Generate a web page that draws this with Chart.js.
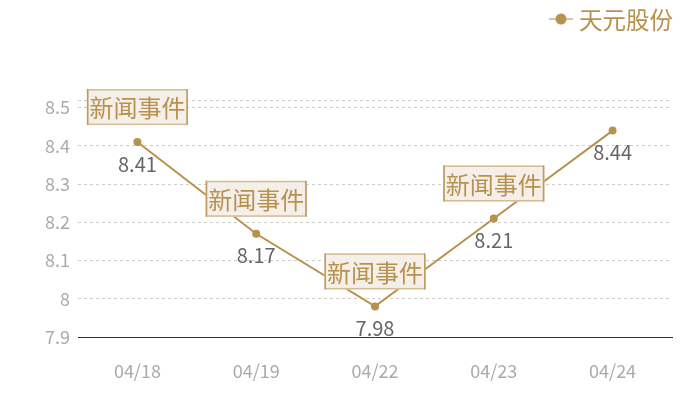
<!DOCTYPE html>
<html>
<head>
<meta charset="utf-8">
<script src="https://cdn.jsdelivr.net/npm/chart.js@4.4.0/dist/chart.umd.min.js"></script>
<style>
html,body{margin:0;padding:0;background:#fff;}
#wrap{width:700px;height:400px;position:relative;}
</style>
</head>
<body>
<div id="wrap"><canvas id="c" width="700" height="400"></canvas></div>
<script>
const categories = ['04/18', '04/19', '04/22', '04/23', '04/24'];
const seriesName = '天元股份';
const prices = [8.41, 8.17, 7.98, 8.21, 8.44];
const eventFlags = [true, true, true, true, false];
const eventText = '新闻事件';
const yTicks = [7.9, 8, 8.1, 8.2, 8.3, 8.4, 8.5];
const yTickLabels = ['7.9', '8', '8.1', '8.2', '8.3', '8.4', '8.5'];
const yMin = 7.9;
const yMax = 8.52;

const GOLD = '#b8914f';
const FONT = '"Noto Sans CJK SC", "Noto Sans", sans-serif';

const overlayPlugin = {
  id: 'overlay',
  afterDatasetsDraw(chart) {
    const ctx = chart.ctx;
    const xs = chart.scales.x, ys = chart.scales.y;
    ctx.save();
    // data labels
    ctx.font = '20px ' + FONT;
    ctx.fillStyle = '#666666';
    ctx.textAlign = 'center';
    ctx.textBaseline = 'middle';
    prices.forEach((v, i) => {
      const x = xs.getPixelForValue(i);
      const y = ys.getPixelForValue(v);
      ctx.fillText(String(v), x, y + 22);
    });
    // event boxes
    prices.forEach((v, i) => {
      if (!eventFlags[i]) return;
      const x = xs.getPixelForValue(i);
      const y = ys.getPixelForValue(v);
      const w = 101, h = 36;
      const bx = x - w / 2, by = y - 17 - h;
      ctx.fillStyle = '#f4efe8';
      ctx.fillRect(bx, by, w, h);
      ctx.strokeStyle = '#d6bc94';
      ctx.lineWidth = 1.5;
      ctx.strokeRect(bx + 0.75, by + 0.75, w - 1.5, h - 1.5);
      ctx.strokeStyle = '#c29b5e';
      ctx.beginPath();
      ctx.moveTo(bx + 0.75, by); ctx.lineTo(bx + 0.75, by + h);
      ctx.moveTo(bx + w - 0.75, by); ctx.lineTo(bx + w - 0.75, by + h);
      ctx.stroke();
      ctx.font = '24px ' + FONT;
      ctx.fillStyle = GOLD;
      ctx.textAlign = 'center';
      ctx.textBaseline = 'middle';
      ctx.fillText(eventText, x, by + h / 2 + 1);
    });
    // legend
    const ly = 19;
    ctx.strokeStyle = '#d9c4a0';
    ctx.lineWidth = 2;
    ctx.beginPath();
    ctx.moveTo(549, ly);
    ctx.lineTo(573, ly);
    ctx.stroke();
    ctx.fillStyle = GOLD;
    ctx.beginPath();
    ctx.arc(561, ly, 5.5, 0, Math.PI * 2);
    ctx.fill();
    ctx.font = '23.5px ' + FONT;
    ctx.textAlign = 'left';
    ctx.textBaseline = 'middle';
    ctx.fillText(seriesName, 579, ly + 1);
    ctx.restore();
  }
};

new Chart(document.getElementById('c'), {
  type: 'line',
  data: {
    labels: categories,
    datasets: [{
      label: seriesName,
      data: prices,
      borderColor: GOLD,
      backgroundColor: GOLD,
      borderWidth: 2,
      pointRadius: 4,
      pointBackgroundColor: GOLD,
      pointBorderWidth: 0,
      tension: 0,
      fill: false
    }]
  },
  options: {
    responsive: false,
    animation: false,
    devicePixelRatio: 1,
    layout: { padding: { left: 0, right: 28, top: 100, bottom: 0 } },
    plugins: { legend: { display: false }, tooltip: { enabled: false } },
    scales: {
      x: {
        offset: true,
        grid: { display: false, drawTicks: false },
        border: { display: true, color: '#333333', width: 1 },
        ticks: { color: '#aaaaaa', font: { size: 18, family: FONT }, padding: 23 },
        afterFit: s => { s.height = 63; }
      },
      y: {
        min: yMin,
        max: yMax,
        afterBuildTicks: s => { s.ticks = yTicks.concat([yMax]).map(v => ({ value: v })); },
        ticks: {
          color: '#aaaaaa',
          font: { size: 18, family: FONT },
          padding: 8,
          callback: (v) => {
            const idx = yTicks.findIndex(t => Math.abs(t - v) < 1e-9);
            return idx >= 0 ? yTickLabels[idx] : '';
          }
        },
        grid: {
          color: (c) => (c.tick && Math.abs(c.tick.value - yMin) < 1e-9) ? 'rgba(0,0,0,0)' : '#cccccc',
          drawTicks: false,
          lineWidth: 1
        },
        border: { display: false, dash: [3, 3] },
        afterFit: s => { s.width = 78; }
      }
    }
  },
  plugins: [overlayPlugin]
});
</script>
</body>
</html>
